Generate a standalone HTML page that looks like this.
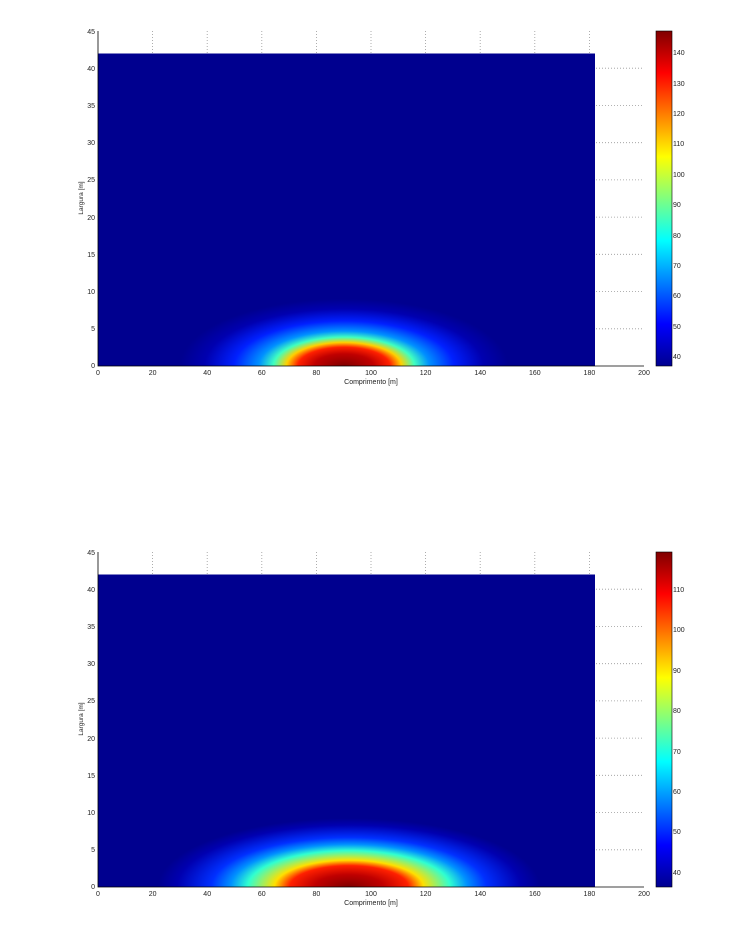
<!DOCTYPE html>
<html><head><meta charset="utf-8"><style>
html,body{margin:0;padding:0;background:#fff;}
svg{display:block;font-family:"Liberation Sans",sans-serif;}
</style></head><body>
<svg width="756" height="930" viewBox="0 0 756 930" xmlns="http://www.w3.org/2000/svg">
<defs>
<linearGradient id="jet" x1="0" y1="1" x2="0" y2="0">
<stop offset="0" stop-color="#00008f"/><stop offset="0.125" stop-color="#0000ff"/>
<stop offset="0.375" stop-color="#00ffff"/><stop offset="0.625" stop-color="#ffff00"/>
<stop offset="0.875" stop-color="#ff0000"/><stop offset="1" stop-color="#800000"/>
</linearGradient>
<radialGradient id="b1" cx="344" cy="366" r="164" gradientUnits="userSpaceOnUse" gradientTransform="translate(344 366) scale(1 0.41) translate(-344 -366)">
<stop offset="0" stop-color="#800000"/><stop offset="0.18" stop-color="#c00000"/>
<stop offset="0.28" stop-color="#ff2000"/><stop offset="0.35" stop-color="#ffd000"/>
<stop offset="0.43" stop-color="#40ffc0"/><stop offset="0.52" stop-color="#0090ff"/>
<stop offset="0.67" stop-color="#0020ff"/><stop offset="0.85" stop-color="#0000b0"/>
<stop offset="1" stop-color="#00008f"/>
</radialGradient>
<radialGradient id="b2" cx="349" cy="887" r="191" gradientUnits="userSpaceOnUse" gradientTransform="translate(349 887) scale(1 0.36) translate(-349 -887)">
<stop offset="0" stop-color="#800000"/><stop offset="0.18" stop-color="#c00000"/>
<stop offset="0.31" stop-color="#ff2000"/><stop offset="0.39" stop-color="#ffe000"/>
<stop offset="0.53" stop-color="#30ffd0"/><stop offset="0.62" stop-color="#0090ff"/>
<stop offset="0.72" stop-color="#0030ff"/><stop offset="0.9" stop-color="#0000b0"/>
<stop offset="1" stop-color="#00008f"/>
</radialGradient>
</defs>

<!-- Plot 1 -->
<g stroke="#999" stroke-width="0.8" stroke-dasharray="1,2" fill="none">
<path d="M152.6 31V366M207.2 31V366M261.8 31V366M316.4 31V366M371 31V366M425.6 31V366M480.2 31V366M534.8 31V366M589.4 31V366"/>
<path d="M98 328.8H644M98 291.6H644M98 254.3H644M98 217.1H644M98 179.9H644M98 142.7H644M98 105.4H644M98 68.2H644"/>
</g>
<rect x="98" y="53.5" width="497" height="312.5" fill="#00008f"/>
<rect x="98" y="53.5" width="497" height="312.5" fill="url(#b1)"/>
<path d="M98 31V366H644" stroke="#000" stroke-width="0.8" fill="none"/>
<g font-size="7" fill="#222" text-anchor="end">
<text x="95" y="368">0</text><text x="95" y="331">5</text><text x="95" y="294">10</text><text x="95" y="257">15</text><text x="95" y="220">20</text><text x="95" y="182">25</text><text x="95" y="145">30</text><text x="95" y="108">35</text><text x="95" y="71">40</text><text x="95" y="34">45</text>
</g>
<g font-size="7" fill="#222" text-anchor="middle">
<text x="98" y="375">0</text><text x="152.6" y="375">20</text><text x="207.2" y="375">40</text><text x="261.8" y="375">60</text><text x="316.4" y="375">80</text><text x="371" y="375">100</text><text x="425.6" y="375">120</text><text x="480.2" y="375">140</text><text x="534.8" y="375">160</text><text x="589.4" y="375">180</text><text x="644" y="375">200</text>
<text x="371" y="384">Comprimento [m]</text>
<text transform="translate(83 198) rotate(-90)" font-size="6.5">Largura [m]</text>
</g>
<rect x="656" y="31" width="16" height="335" fill="url(#jet)" stroke="#000" stroke-width="0.6"/>
<g font-size="7" fill="#222">
<text x="673" y="55">140</text><text x="673" y="86">130</text><text x="673" y="116">120</text><text x="673" y="146">110</text><text x="673" y="177">100</text><text x="673" y="207">90</text><text x="673" y="238">80</text><text x="673" y="268">70</text><text x="673" y="298">60</text><text x="673" y="329">50</text><text x="673" y="359">40</text>
</g>

<!-- Plot 2 -->
<g stroke="#999" stroke-width="0.8" stroke-dasharray="1,2" fill="none">
<path d="M152.6 552V887M207.2 552V887M261.8 552V887M316.4 552V887M371 552V887M425.6 552V887M480.2 552V887M534.8 552V887M589.4 552V887"/>
<path d="M98 849.8H644M98 812.6H644M98 775.3H644M98 738.1H644M98 700.9H644M98 663.7H644M98 626.4H644M98 589.2H644"/>
</g>
<rect x="98" y="574.5" width="497" height="312.5" fill="#00008f"/>
<rect x="98" y="574.5" width="497" height="312.5" fill="url(#b2)"/>
<path d="M98 552V887H644" stroke="#000" stroke-width="0.8" fill="none"/>
<g font-size="7" fill="#222" text-anchor="end">
<text x="95" y="889">0</text><text x="95" y="852">5</text><text x="95" y="815">10</text><text x="95" y="778">15</text><text x="95" y="741">20</text><text x="95" y="703">25</text><text x="95" y="666">30</text><text x="95" y="629">35</text><text x="95" y="592">40</text><text x="95" y="555">45</text>
</g>
<g font-size="7" fill="#222" text-anchor="middle">
<text x="98" y="896">0</text><text x="152.6" y="896">20</text><text x="207.2" y="896">40</text><text x="261.8" y="896">60</text><text x="316.4" y="896">80</text><text x="371" y="896">100</text><text x="425.6" y="896">120</text><text x="480.2" y="896">140</text><text x="534.8" y="896">160</text><text x="589.4" y="896">180</text><text x="644" y="896">200</text>
<text x="371" y="905">Comprimento [m]</text>
<text transform="translate(83 719) rotate(-90)" font-size="6.5">Largura [m]</text>
</g>
<rect x="656" y="552" width="16" height="335" fill="url(#jet)" stroke="#000" stroke-width="0.6"/>
<g font-size="7" fill="#222">
<text x="673" y="592">110</text><text x="673" y="632">100</text><text x="673" y="673">90</text><text x="673" y="713">80</text><text x="673" y="754">70</text><text x="673" y="794">60</text><text x="673" y="834">50</text><text x="673" y="875">40</text>
</g>
</svg>
</body></html>
